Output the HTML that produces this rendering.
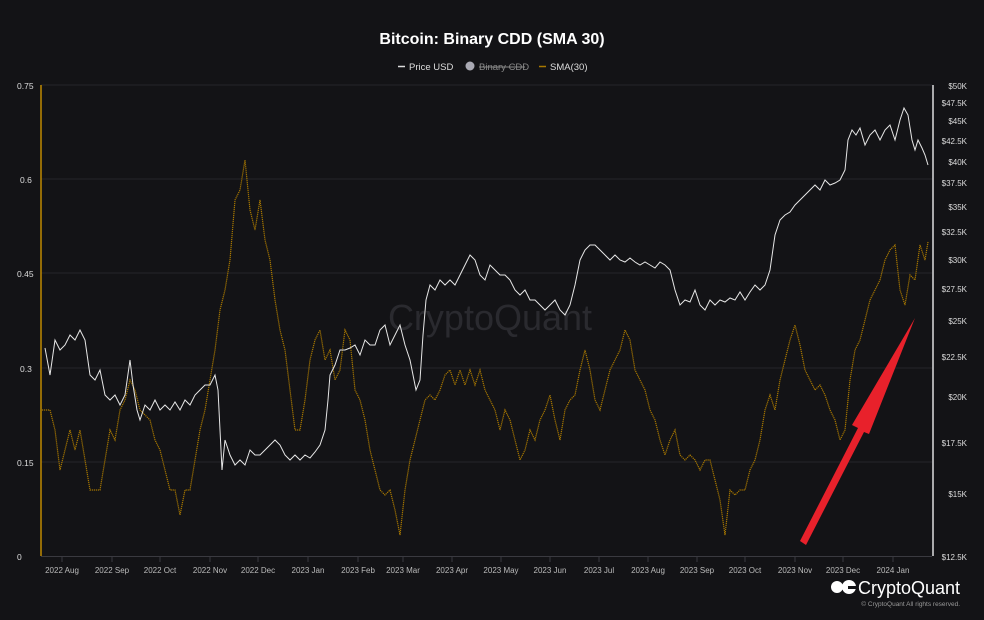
<!DOCTYPE html>
<html><head><meta charset="utf-8"><style>
body{margin:0;background:#131316;}
svg{display:block;font-family:"Liberation Sans",Arial,sans-serif;}
</style></head><body>
<svg width="984" height="620" viewBox="0 0 984 620" xmlns="http://www.w3.org/2000/svg">
<rect width="984" height="620" fill="#131316"/>
<text x="492" y="44" text-anchor="middle" fill="#fff" font-size="16" font-weight="bold">Bitcoin: Binary CDD (SMA 30)</text>
<g font-size="9.5" fill="#ddd">
<line x1="398" y1="66.5" x2="405" y2="66.5" stroke="#ddd" stroke-width="1.5"/>
<text x="409" y="70">Price USD</text>
<circle cx="470" cy="66" r="4.5" fill="#a9a9b3"/>
<text x="479" y="70" fill="#888">Binary CDD</text>
<line x1="479" y1="67" x2="525" y2="67" stroke="#888" stroke-width="1"/>
<line x1="539" y1="66.5" x2="546" y2="66.5" stroke="#a87800" stroke-width="1.5"/>
<text x="550" y="70">SMA(30)</text>
</g>
<g stroke="#26262a" stroke-width="1">
<line x1="41" y1="179" x2="932" y2="179"/><line x1="41" y1="273" x2="932" y2="273"/>
<line x1="41" y1="368" x2="932" y2="368"/><line x1="41" y1="462" x2="932" y2="462"/>
<line x1="41" y1="85" x2="932" y2="85"/>
</g>
<line x1="41" y1="556.5" x2="932" y2="556.5" stroke="#3a3a40" stroke-width="1"/>
<g stroke="#3a3a40"><path d="M62 557v5M112 557v5M160 557v5M210 557v5M258 557v5M308 557v5M358 557v5M403 557v5M452 557v5M501 557v5M550 557v5M599 557v5M648 557v5M697 557v5M745 557v5M795 557v5M843 557v5M893 557v5"/></g>
<text x="490" y="330" text-anchor="middle" fill="#2a2a2f" font-size="36">CryptoQuant</text>
<line x1="41" y1="85" x2="41" y2="556" stroke="#c08a00" stroke-width="1.5"/>
<line x1="933" y1="85" x2="933" y2="556" stroke="#ddd" stroke-width="1.5"/>
<g font-size="8.5" fill="#ddd">
<text x="17" y="89">0.75</text><text x="20" y="183">0.6</text><text x="17" y="277">0.45</text><text x="20" y="372">0.3</text><text x="17" y="466">0.15</text><text x="17" y="560">0</text>
</g>
<g font-size="8" fill="#ddd" text-anchor="end">
<text x="967" y="89">$50K</text><text x="967" y="106">$47.5K</text><text x="967" y="124">$45K</text><text x="967" y="144">$42.5K</text><text x="967" y="165">$40K</text><text x="967" y="186">$37.5K</text><text x="967" y="210">$35K</text><text x="967" y="235">$32.5K</text><text x="967" y="263">$30K</text><text x="967" y="292">$27.5K</text><text x="967" y="324">$25K</text><text x="967" y="360">$22.5K</text><text x="967" y="400">$20K</text><text x="967" y="446">$17.5K</text><text x="967" y="497">$15K</text><text x="967" y="560">$12.5K</text>
</g>
<g font-size="8" fill="#bbb" text-anchor="middle">
<text x="62" y="573">2022 Aug</text><text x="112" y="573">2022 Sep</text><text x="160" y="573">2022 Oct</text><text x="210" y="573">2022 Nov</text><text x="258" y="573">2022 Dec</text><text x="308" y="573">2023 Jan</text><text x="358" y="573">2023 Feb</text><text x="403" y="573">2023 Mar</text><text x="452" y="573">2023 Apr</text><text x="501" y="573">2023 May</text><text x="550" y="573">2023 Jun</text><text x="599" y="573">2023 Jul</text><text x="648" y="573">2023 Aug</text><text x="697" y="573">2023 Sep</text><text x="745" y="573">2023 Oct</text><text x="795" y="573">2023 Nov</text><text x="843" y="573">2023 Dec</text><text x="893" y="573">2024 Jan</text>
</g>
<polyline fill="none" stroke="#a87800" stroke-width="1.2" stroke-dasharray="1.2,0.8" points="42,410 50,410 55,430 60,470 65,450 70,430 75,450 80,430 85,460 90,490 100,490 105,460 110,430 115,440 120,410 125,400 130,380 135,390 140,410 150,420 155,440 160,450 165,470 170,490 175,490 180,515 185,490 190,490 195,460 200,430 205,410 210,380 215,350 220,310 225,290 230,260 235,200 240,190 245,160 250,210 255,230 260,200 265,240 270,260 275,300 280,330 285,350 290,390 295,430 300,430 305,400 310,360 315,340 320,330 325,360 330,350 335,380 340,370 345,330 350,340 355,390 360,400 365,420 370,450 375,470 380,490 385,495 390,490 395,510 400,535 405,490 410,460 415,440 420,420 425,400 430,395 435,400 440,390 445,375 450,370 455,385 460,370 465,385 470,370 475,385 480,370 485,390 490,400 495,410 500,430 505,410 510,420 515,440 520,460 525,450 530,430 535,440 540,420 545,410 550,395 555,420 560,440 565,410 570,400 575,395 580,370 585,350 590,370 595,400 600,410 605,390 610,370 615,360 620,350 625,330 630,340 635,370 640,380 645,390 650,410 655,420 660,440 665,455 670,440 675,430 680,455 685,460 690,455 695,460 700,470 705,460 710,460 715,480 720,500 725,535 730,490 735,495 740,490 745,490 750,470 755,460 760,440 765,410 770,395 775,410 780,380 785,360 790,340 795,325 800,345 805,370 810,380 815,390 820,385 825,395 830,410 835,420 840,440 845,430 850,380 855,350 860,340 865,320 870,300 875,290 880,280 885,260 890,250 895,245 900,290 905,305 910,275 915,280 920,245 925,260 928,242"/>
<polyline fill="none" stroke="#e6e6e6" stroke-width="1" points="45,348 50,375 55,340 60,350 65,345 70,335 75,340 80,330 85,340 90,375 95,380 100,370 105,395 110,400 115,395 120,405 125,395 130,360 133,385 137,410 140,420 145,405 150,410 155,400 160,410 165,405 170,410 175,402 180,410 185,400 190,405 195,395 200,390 205,385 210,385 215,375 218,390 222,470 225,440 230,455 235,465 240,460 245,465 250,450 255,455 260,455 265,450 270,445 275,440 280,445 285,455 290,460 295,455 300,460 305,455 310,458 315,452 320,445 325,430 328,400 330,375 335,365 340,350 345,350 350,348 355,345 360,355 365,340 370,345 375,345 380,330 385,325 390,345 395,335 400,325 405,345 410,360 413,375 416,390 420,380 423,335 426,300 430,285 435,290 440,280 445,285 450,280 455,285 460,275 465,265 470,255 475,260 480,275 485,280 490,265 495,270 500,275 505,275 510,280 515,290 520,295 525,290 530,300 535,300 540,305 545,310 550,305 555,300 560,310 565,315 570,305 575,285 580,260 585,250 590,245 595,245 600,250 605,255 610,260 615,255 620,260 625,262 630,258 635,262 640,265 645,262 650,265 655,268 660,262 665,265 670,270 675,290 680,305 685,300 690,302 695,290 700,305 705,310 710,300 715,305 720,300 725,302 730,298 735,300 740,292 745,300 750,292 755,285 760,290 765,285 770,270 775,235 780,220 785,215 790,212 795,205 800,200 805,195 810,190 815,185 820,190 825,180 830,185 835,183 840,180 845,170 848,140 852,130 856,135 860,128 865,145 870,135 875,130 880,140 885,130 890,125 895,140 900,120 904,108 908,115 912,140 915,150 918,140 922,148 925,155 928,165"/>
<polygon fill="#e8212b" points="800,541 806,545 864,432 869,434 915,318 852,425 858,428"/>
<g transform="translate(831,578)">
<circle cx="6" cy="9" r="6" fill="#fff"/><circle cx="18" cy="9" r="7" fill="#fff"/><rect x="17" y="8" width="8" height="3" fill="#131316"/>
</g>
<text x="858" y="594" fill="#fff" font-size="18">CryptoQuant</text>
<text x="960" y="606" text-anchor="end" fill="#999" font-size="6.5">© CryptoQuant All rights reserved.</text>
</svg>
</body></html>
